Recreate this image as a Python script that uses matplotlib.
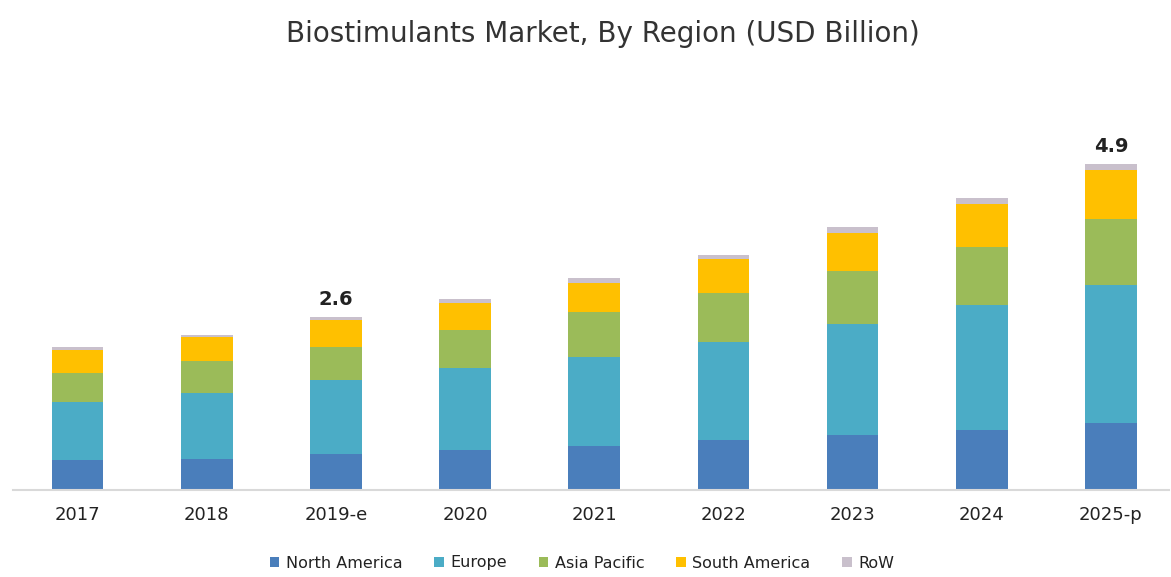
import matplotlib
matplotlib.use("Agg")
import matplotlib.pyplot as plt
import numpy as np

years = ["2017", "2018", "2019-e", "2020", "2021", "2022", "2023", "2024", "2025-p"]
north_america = [0.44, 0.46, 0.53, 0.59, 0.65, 0.74, 0.82, 0.90, 1.00]
europe = [0.88, 0.99, 1.12, 1.23, 1.35, 1.48, 1.67, 1.88, 2.07]
asia_pacific = [0.43, 0.48, 0.49, 0.58, 0.67, 0.74, 0.79, 0.87, 1.00]
south_america = [0.35, 0.36, 0.41, 0.41, 0.43, 0.50, 0.58, 0.64, 0.73]
row = [0.04, 0.04, 0.05, 0.05, 0.08, 0.06, 0.09, 0.10, 0.10]
labels = {2: "2.6", 8: "4.9"}

series = [
    ("North America", north_america, "#4A7EBB"),
    ("Europe", europe, "#4BACC6"),
    ("Asia Pacific", asia_pacific, "#9BBB59"),
    ("South America", south_america, "#FFC000"),
    ("RoW", row, "#C9C0CC"),
]

W, H = 1171, 577
fig = plt.figure(figsize=(W / 100, H / 100), dpi=100)
base_px = 489.5
px_per_unit = 66.5
ymax = 5.5
ax_h = ymax * px_per_unit
ax = fig.add_axes([13 / W, (H - base_px) / H, (1169 - 13) / W, ax_h / H])

x = np.arange(len(years))
bottom = np.zeros(len(years))
for name, vals, color in series:
    ax.bar(x, vals, 0.4, bottom=bottom, color=color, label=name, linewidth=0)
    bottom += np.array(vals)

for i, txt in labels.items():
    ax.text(x[i], bottom[i] + 0.12, txt, ha="center", va="bottom",
            fontsize=14, fontweight="bold", color="#222222")

ax.set_xlim(-0.5, 8.45)
ax.set_ylim(0, ymax)
ax.set_xticks(x)
ax.set_xticklabels(years, fontsize=13, color="#222222")
ax.tick_params(axis="x", length=0, pad=12)
ax.set_yticks([])
for s in ["top", "right", "left"]:
    ax.spines[s].set_visible(False)
ax.spines["bottom"].set_color("#D9D9D9")
ax.spines["bottom"].set_linewidth(1.5)

fig.text(0.515, 1 - 34 / H, "Biostimulants Market, By Region (USD Billion)",
         ha="center", va="center", fontsize=20, color="#333333",
         family="DejaVu Sans")

handles, lbls = ax.get_legend_handles_labels()
fig.legend(handles, lbls, loc="center", bbox_to_anchor=(0.497, 1 - 563 / H),
           ncol=5, frameon=False, fontsize=11.5, handlelength=0.6, handleheight=0.6,
           handletextpad=0.4, columnspacing=2.0, labelcolor="#222222")

fig.savefig("out.png", dpi=100)
